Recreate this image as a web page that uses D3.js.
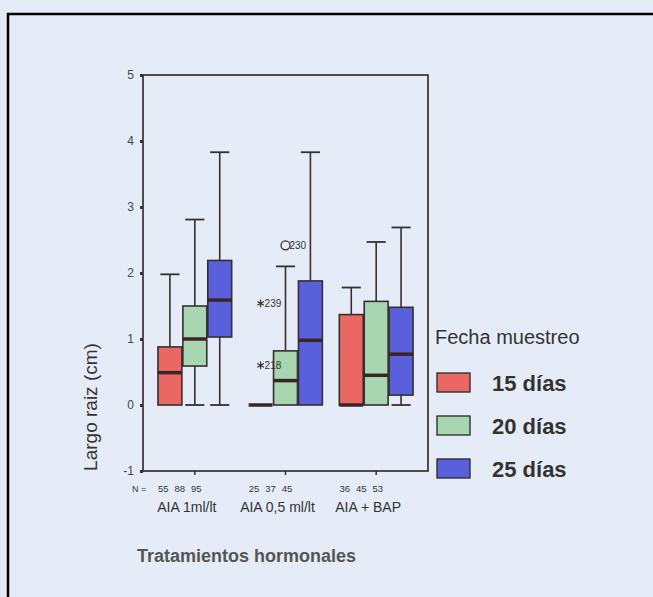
<!DOCTYPE html>
<html>
<head>
<meta charset="utf-8">
<script src="https://cdn.jsdelivr.net/npm/d3@7"></script>
<style>
  body { margin: 0; background: #e6ecf7; }
  svg { display: block; font-family: "Liberation Sans", Arial, sans-serif; }
</style>
</head>
<body>
<div id="chart"></div>
<script>
// Categories and series
const categories = ["AIA 1ml/lt", "AIA 0,5 ml/lt", "AIA + BAP"];
const series = ["15 días", "20 días", "25 días"];
const colors = ["#ea6764", "#a8d6b1", "#5a5fdb"];

// Box statistics, [category][series]
const whiskerLow = [[0, 0, 0], [0, 0, 0], [0, 0, 0]];
const q1 = [[0, 0.59, 1.03], [0, 0, 0], [0, 0, 0.15]];
const median = [[0.49, 1.0, 1.59], [0, 0.37, 0.98], [0, 0.45, 0.77]];
const q3 = [[0.88, 1.5, 2.19], [0, 0.82, 1.88], [1.37, 1.57, 1.48]];
const whiskerHigh = [[1.98, 2.81, 3.83], [0, 2.1, 3.83], [1.78, 2.47, 2.69]];
const counts = [[55, 88, 95], [25, 37, 45], [36, 45, 53]];

// Outliers (circle) and extremes (asterisk)
const outliers = [
    { cat: 1, ser: 1, value: 2.42, id: "230", kind: "circle" },
    { cat: 1, ser: 0, value: 1.54, id: "239", kind: "star" },
    { cat: 1, ser: 0, value: 0.60, id: "218", kind: "star" }
];

const yTicks = [-1, 0, 1, 2, 3, 4, 5];

const width = 653, height = 597;
const svg = d3.select("#chart").append("svg")
    .attr("width", width)
    .attr("height", height);

svg.append("rect")
    .attr("width", width).attr("height", height)
    .attr("fill", "#e6ecf7");

// outer frame (only top and left edges fall inside the picture)
svg.append("rect")
    .attr("x", 8).attr("y", 14)
    .attr("width", 700).attr("height", 700)
    .attr("fill", "none")
    .attr("stroke", "#000")
    .attr("stroke-width", 2.5);

const plot = { left: 143, right: 428, top: 75, bottom: 471 };

const y = d3.scaleLinear().domain([-1, 5]).range([plot.bottom, plot.top]);
const x = d3.scaleBand().domain(categories)
    .range([plot.left, plot.right])
    .paddingInner(0.187)
    .paddingOuter(0.165);
const xs = d3.scaleBand().domain(series)
    .range([0, x.bandwidth()])
    .paddingInner(0.04);

const ink = "#362f30";

// plot frame
svg.append("rect")
    .attr("x", plot.left).attr("y", plot.top)
    .attr("width", plot.right - plot.left)
    .attr("height", plot.bottom - plot.top)
    .attr("fill", "none")
    .attr("stroke", ink)
    .attr("stroke-width", 1.7);

// y axis
const yAxis = svg.append("g")
    .attr("transform", `translate(${plot.left},0)`)
    .call(d3.axisLeft(y).tickValues(yTicks).tickSize(3).tickPadding(6).tickFormat(d => String(d)));
yAxis.select(".domain").remove();
yAxis.selectAll("line").attr("stroke", ink).attr("stroke-width", 3);
yAxis.selectAll("text")
    .attr("font-size", 12)
    .attr("fill", "#444")
    .attr("font-family", "Liberation Sans, Arial, sans-serif");

// x axis ticks
const xAxis = svg.append("g")
    .attr("transform", `translate(0,${plot.bottom})`)
    .call(d3.axisBottom(x).tickSize(4).tickFormat(""));
xAxis.select(".domain").remove();
xAxis.selectAll("line").attr("stroke", ink).attr("stroke-width", 1.5);

// flatten box data
const boxes = [];
categories.forEach((c, i) => {
    series.forEach((s, j) => {
        boxes.push({
            cat: c, ser: s, j,
            lo: whiskerLow[i][j], q1: q1[i][j], med: median[i][j],
            q3: q3[i][j], hi: whiskerHigh[i][j]
        });
    });
});

const bw = xs.bandwidth();
const g = svg.append("g");
const box = g.selectAll("g.box")
    .data(boxes)
    .join("g")
    .attr("class", "box")
    .attr("transform", d => `translate(${x(d.cat) + xs(d.ser)},0)`);

// whiskers
box.filter(d => d.hi > d.q3).append("line")
    .attr("x1", bw / 2).attr("x2", bw / 2)
    .attr("y1", d => y(d.q3)).attr("y2", d => y(d.hi))
    .attr("stroke", ink).attr("stroke-width", 1.6);
box.filter(d => d.hi > d.q3).append("line")
    .attr("x1", bw * 0.1).attr("x2", bw * 0.9)
    .attr("y1", d => y(d.hi)).attr("y2", d => y(d.hi))
    .attr("stroke", ink).attr("stroke-width", 1.8);
box.filter(d => d.lo < d.q1).append("line")
    .attr("x1", bw / 2).attr("x2", bw / 2)
    .attr("y1", d => y(d.q1)).attr("y2", d => y(d.lo))
    .attr("stroke", ink).attr("stroke-width", 1.6);
box.filter(d => d.lo < d.q1).append("line")
    .attr("x1", bw * 0.1).attr("x2", bw * 0.9)
    .attr("y1", d => y(d.lo)).attr("y2", d => y(d.lo))
    .attr("stroke", ink).attr("stroke-width", 1.8);

// boxes
box.append("rect")
    .attr("x", 0)
    .attr("width", bw)
    .attr("y", d => y(d.q3))
    .attr("height", d => y(d.q1) - y(d.q3))
    .attr("fill", d => colors[d.j])
    .attr("stroke", ink)
    .attr("stroke-width", 1.6);

// medians
box.append("line")
    .attr("x1", 0).attr("x2", bw)
    .attr("y1", d => y(d.med)).attr("y2", d => y(d.med))
    .attr("stroke", "#3a2426")
    .attr("stroke-width", 3.5);

// outliers
const out = g.selectAll("g.out")
    .data(outliers)
    .join("g")
    .attr("class", "out")
    .attr("transform", d => `translate(${x(categories[d.cat]) + xs(series[d.ser]) + bw / 2},${y(d.value)})`);
out.filter(d => d.kind === "circle").append("circle")
    .attr("r", 4.5)
    .attr("fill", "none")
    .attr("stroke", ink)
    .attr("stroke-width", 1.3);
out.filter(d => d.kind === "star").append("path")
    .attr("d", d3.symbol(d3.symbolAsterisk, 40))
    .attr("fill", "none")
    .attr("stroke", ink)
    .attr("stroke-width", 1.2);
out.append("text")
    .attr("x", 4)
    .attr("dy", "0.35em")
    .attr("font-size", 10)
    .attr("fill", "#333")
    .text(d => d.id);

// N counts
svg.append("text")
    .attr("x", 132).attr("y", 492)
    .attr("font-size", 9)
    .attr("fill", "#333")
    .text("N =");
const countCells = [];
categories.forEach((c, i) => series.forEach((s, j) => countCells.push({ c, j, n: counts[i][j] })));
svg.append("g").selectAll("text")
    .data(countCells)
    .join("text")
    .attr("x", d => x(d.c) + x.bandwidth() / 2 - 15 + (d.j - 1) * 16.5)
    .attr("y", 492)
    .attr("text-anchor", "middle")
    .attr("font-size", 9.5)
    .attr("fill", "#333")
    .text(d => d.n);

// category labels
svg.append("g").selectAll("text")
    .data(categories)
    .join("text")
    .attr("x", d => x(d) + x.bandwidth() / 2 - 8)
    .attr("y", 512)
    .attr("text-anchor", "middle")
    .attr("font-size", 14)
    .attr("fill", "#333")
    .text(d => d);

// axis titles
svg.append("text")
    .attr("x", 137).attr("y", 562)
    .attr("font-size", 18)
    .attr("font-weight", "bold")
    .attr("fill", "#555")
    .text("Tratamientos hormonales");

svg.append("text")
    .attr("transform", "translate(97,407) rotate(-90)")
    .attr("text-anchor", "middle")
    .attr("font-size", 19)
    .attr("fill", "#333")
    .text("Largo raiz (cm)");

// legend
const legend = svg.append("g").attr("transform", "translate(435,0)");
legend.append("text")
    .attr("x", 0).attr("y", 344)
    .attr("font-size", 20)
    .attr("fill", "#333")
    .text("Fecha muestreo");
const item = legend.selectAll("g.item")
    .data(series)
    .join("g")
    .attr("class", "item")
    .attr("transform", (d, i) => `translate(0,${373 + i * 43})`);
item.append("rect")
    .attr("x", 2).attr("width", 33).attr("height", 19)
    .attr("fill", (d, i) => colors[i])
    .attr("stroke", ink)
    .attr("stroke-width", 1.4);
item.append("text")
    .attr("x", 57).attr("y", 18)
    .attr("font-size", 22)
    .attr("font-weight", "bold")
    .attr("fill", "#333")
    .text(d => d);
</script>
</body>
</html>
